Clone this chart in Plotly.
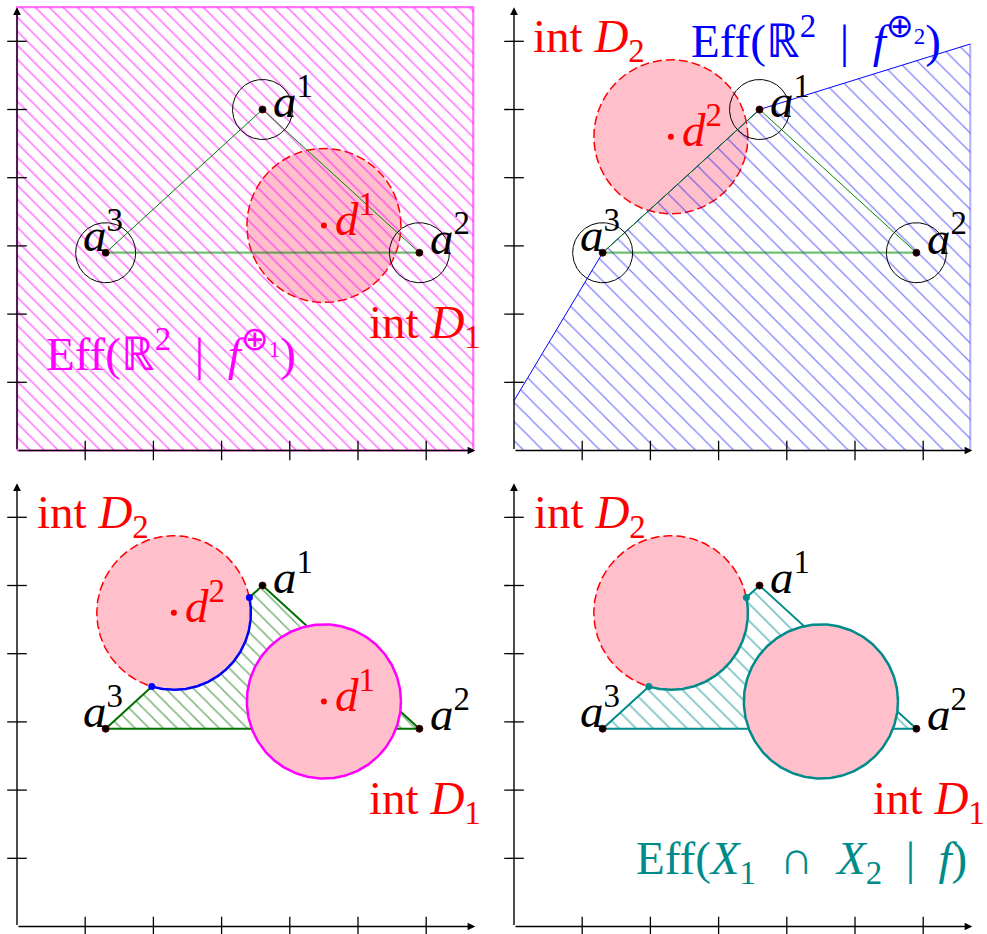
import numpy as np
import plotly.graph_objects as go

# ---------------- data ----------------
A_X = [3.6, 5.9, 1.3]          # a1, a2, a3
A_Y = [5.0, 2.9, 2.9]
A_NAMES = ["1", "2", "3"]
D_X = [4.5, 2.3]               # d1, d2
D_Y = [3.3, 4.6]
D_R = [1.13, 1.13]
A_CIRCLE_R = 0.44
TICKS = [1, 2, 3, 4, 5, 6]
AXIS_END_X = 6.72
AXIS_END_Y = 6.5
EFF1_X = [0, 6.69, 6.69, 0, 0]          # Eff(R^2 | f^{+1}) box
EFF1_Y = [0, 0, 6.5, 6.5, 0]
EFF2_X = [0, 0, 1.3, 3.6, 6.69, 6.69, 0]  # Eff(R^2 | f^{+2})
EFF2_Y = [0, 0.73, 2.9, 5.0, 5.96, 0, 0]

# ---------------- geometry of page ----------------
W, H = 987, 934
U = 68.2
OX_L, OX_R = 17.0, 514.0
OY_T, OY_B = 450.5, 926.5
FONT = "Liberation Serif"
FS = 47

RED = "#ff0000"
PINK = "#ffc0cb"
MAG = "#ff00ff"
BLUE = "#0000ff"
GREEN = "#007000"
TEAL = "#008b8b"
SP = "\u2002"

fig = go.Figure()
layout = dict(width=W, height=H, margin=dict(l=0, r=0, t=0, b=0),
              paper_bgcolor="white", plot_bgcolor="white", showlegend=False)

PANELS = {1: (OX_L, OY_T, [0, 0.5], [0.5, 1]),
          2: (OX_R, OY_T, [0.5, 1], [0.5, 1]),
          3: (OX_L, OY_B, [0, 0.5], [0, 0.5]),
          4: (OX_R, OY_B, [0.5, 1], [0, 0.5])}


def sfx(p):
    return "" if p == 1 else str(p)


for p, (ox, oy, dx, dy) in PANELS.items():
    px0, px1 = dx[0] * W, dx[1] * W
    py_top, py_bot = (1 - dy[1]) * H, (1 - dy[0]) * H
    s = sfx(p)
    layout["xaxis" + s] = dict(domain=dx, range=[(px0 - ox) / U, (px1 - ox) / U],
                               visible=False, anchor="y" + s, fixedrange=True)
    layout["yaxis" + s] = dict(domain=dy, range=[(oy - py_bot) / U, (oy - py_top) / U],
                               visible=False, anchor="x" + s, fixedrange=True)
fig.update_layout(**layout)


def add(p, **kw):
    s = sfx(p)
    fig.add_trace(go.Scatter(xaxis="x" + s, yaxis="y" + s, showlegend=False,
                             hoverinfo="skip", **kw))


def circ(cx, cy, r, t0=0.0, t1=2 * np.pi, n=300):
    t = np.linspace(t0, t1, n)
    return cx + r * np.cos(t), cy + r * np.sin(t)


annotations = []


def label(p, x, y, text, color="black", size=FS):
    s = sfx(p)
    annotations.append(dict(xref="x" + s, yref="y" + s, x=x, y=y, text=text,
                            showarrow=False, xanchor="center", yanchor="middle",
                            font=dict(family=FONT, size=size, color=color)))


def axes(p):
    s = sfx(p)
    for (hx, hy) in [(AXIS_END_X, 0), (0, AXIS_END_Y)]:
        annotations.append(dict(xref="x" + s, yref="y" + s, axref="x" + s, ayref="y" + s,
                                x=hx, y=hy, ax=0, ay=0, text="", showarrow=True,
                                arrowhead=2, arrowsize=1.1, arrowwidth=1.4,
                                arrowcolor="black", standoff=0, startstandoff=0))
    add(p, x=TICKS, y=[0] * len(TICKS), mode="markers",
        marker=dict(symbol="line-ns", size=14, line=dict(width=1.3, color="black")))
    add(p, x=[0] * len(TICKS), y=TICKS, mode="markers",
        marker=dict(symbol="line-ew", size=14, line=dict(width=1.3, color="black")))


# label offsets (in px, converted to data units)
OFF_A = [(30, -12), (31, -18), (-3, -21)]
OFF_D = (31, -10)


def a_labels(p):
    for i in range(3):
        ox, oy = OFF_A[i]
        label(p, A_X[i] + ox / U, A_Y[i] - oy / U, "<i>a</i><sup>%s</sup>" % A_NAMES[i])


def d_label(p, i):
    label(p, D_X[i] + OFF_D[0] / U, D_Y[i] - OFF_D[1] / U,
          "<i>d</i><sup>%d</sup>" % (i + 1), color=RED)


def disc(p, i, fillcolor=PINK, line=None):
    cx, cy = circ(D_X[i], D_Y[i], D_R[i])
    add(p, x=cx, y=cy, mode="lines" if line else "none", fill="toself",
        fillcolor=fillcolor, line=line or dict(width=0))


def thin_triangle(p):
    add(p, x=[A_X[2], A_X[0], A_X[1]], y=[A_Y[2], A_Y[0], A_Y[1]], mode="lines",
        line=dict(color="#008000", width=1))
    add(p, x=[A_X[2], A_X[1]], y=[A_Y[2], A_Y[1]], mode="lines",
        line=dict(color="rgba(0,140,0,0.55)", width=2.2))


def small_circles(p):
    for i in range(3):
        cx, cy = circ(A_X[i], A_Y[i], A_CIRCLE_R)
        add(p, x=cx, y=cy, mode="lines", line=dict(color="black", width=1))


def a_points(p):
    add(p, x=A_X, y=A_Y, mode="markers",
        marker=dict(color="black", size=7, line=dict(color="#5a0000", width=1)))


def d_point(p, i):
    add(p, x=[D_X[i]], y=[D_Y[i]], mode="markers", marker=dict(color=RED, size=6))


DASH = "9px,4px"

# ---------------- panel 1 ----------------
disc(1, 0, line=dict(color=RED, width=1.5, dash=DASH))
add(1, x=EFF1_X, y=EFF1_Y, mode="lines", fill="toself", fillcolor="rgba(0,0,0,0)",
    line=dict(color="rgba(255,0,255,0.55)", width=2.2),
    fillpattern=dict(shape="\\", size=9.9, solidity=0.17, fgcolor=MAG,
                     bgcolor="rgba(0,0,0,0)"))
thin_triangle(1)
small_circles(1)
a_points(1)
d_point(1, 0)
axes(1)
a_labels(1)
d_label(1, 0)
label(1, 5.98, 1.84, "int <i>D</i><sub>1</sub>", color=RED)
label(1, 2.26, 1.47, "Eff(ℝ<sup>2</sup>" + SP + "|" + SP + "<i>f</i><sup>⊕<sub>1</sub></sup>)",
      color=MAG)

# ---------------- panel 2 ----------------
disc(2, 1, line=dict(color=RED, width=1.5, dash=DASH))
add(2, x=EFF2_X, y=EFF2_Y, mode="none", fill="toself", fillcolor="rgba(0,0,0,0)",
    fillpattern=dict(shape="\\", size=13.5, solidity=0.09, fgcolor=BLUE,
                     bgcolor="rgba(0,0,0,0)"))
add(2, x=EFF2_X[1:5], y=EFF2_Y[1:5], mode="lines", line=dict(color=BLUE, width=1))
add(2, x=EFF2_X[4:6], y=EFF2_Y[4:6], mode="lines",
    line=dict(color="rgba(0,0,255,0.3)", width=2.2))
thin_triangle(2)
small_circles(2)
a_points(2)
d_point(2, 1)
axes(2)
a_labels(2)
d_label(2, 1)
label(2, 1.10, 6.02, "int <i>D</i><sub>2</sub>", color=RED)
label(2, 4.43, 6.06, "Eff(ℝ<sup>2</sup>" + SP + "|" + SP + "<i>f</i><sup>⊕<sub>2</sub></sup>)",
      color=BLUE)


# intersection of segment a3-a1 with boundary of D2
def d2_hits():
    px, py = A_X[2], A_Y[2]
    vx, vy = A_X[0] - px, A_Y[0] - py
    wx, wy = px - D_X[1], py - D_Y[1]
    a = vx * vx + vy * vy
    b = 2 * (vx * wx + vy * wy)
    c = wx * wx + wy * wy - D_R[1] ** 2
    disc_ = np.sqrt(b * b - 4 * a * c)
    ts = [(-b - disc_) / (2 * a), (-b + disc_) / (2 * a)]
    pts = [(px + t * vx, py + t * vy) for t in ts]
    angs = [np.arctan2(y - D_Y[1], x - D_X[1]) for x, y in pts]
    return pts, angs


HITS, ANGS = d2_hits()


def lower_panel(p, col, hatch_size, d1_line_col, arc_col):
    add(p, x=[A_X[0], A_X[1], A_X[2], A_X[0]], y=[A_Y[0], A_Y[1], A_Y[2], A_Y[0]],
        mode="lines", fill="toself", fillcolor="rgba(0,0,0,0)",
        line=dict(color=col, width=2),
        fillpattern=dict(shape="\\", size=hatch_size, solidity=0.15, fgcolor=col,
                         bgcolor="rgba(0,0,0,0)"))
    # D2
    disc(p, 1)
    ax_, ay_ = circ(D_X[1], D_Y[1], D_R[1], ANGS[1], ANGS[0] + 2 * np.pi)
    add(p, x=ax_, y=ay_, mode="lines", line=dict(color=RED, width=1.5, dash=DASH))
    bx, by = circ(D_X[1], D_Y[1], D_R[1], ANGS[0], ANGS[1])
    add(p, x=bx, y=by, mode="lines", line=dict(color=arc_col, width=2.5))
    # D1
    disc(p, 0, line=dict(color=d1_line_col, width=2.5))
    add(p, x=[h[0] for h in HITS], y=[h[1] for h in HITS], mode="markers",
        marker=dict(color=arc_col, size=7))
    a_points(p)
    axes(p)
    a_labels(p)


# ---------------- panel 3 ----------------
lower_panel(3, GREEN, 9.9, MAG, BLUE)
d_point(3, 0)
d_point(3, 1)
d_label(3, 0)
d_label(3, 1)
label(3, 1.107, 6.02, "int <i>D</i><sub>2</sub>", color=RED)
label(3, 5.98, 1.83, "int <i>D</i><sub>1</sub>", color=RED)

# ---------------- panel 4 ----------------
lower_panel(4, TEAL, 12.0, TEAL, TEAL)
label(4, 1.11, 6.02, "int <i>D</i><sub>2</sub>", color=RED)
label(4, 6.08, 1.83, "int <i>D</i><sub>1</sub>", color=RED)
label(4, 4.22, 0.95, "Eff(<i>X</i><sub>1</sub>" + SP + "∩" + SP + "<i>X</i><sub>2</sub>"
      + SP + "|" + SP + "<i>f</i>)", color=TEAL)

fig.update_layout(annotations=annotations)
fig.write_html("out.html", config={"displayModeBar": False},
               post_script="document.body.style.margin='0px';")
